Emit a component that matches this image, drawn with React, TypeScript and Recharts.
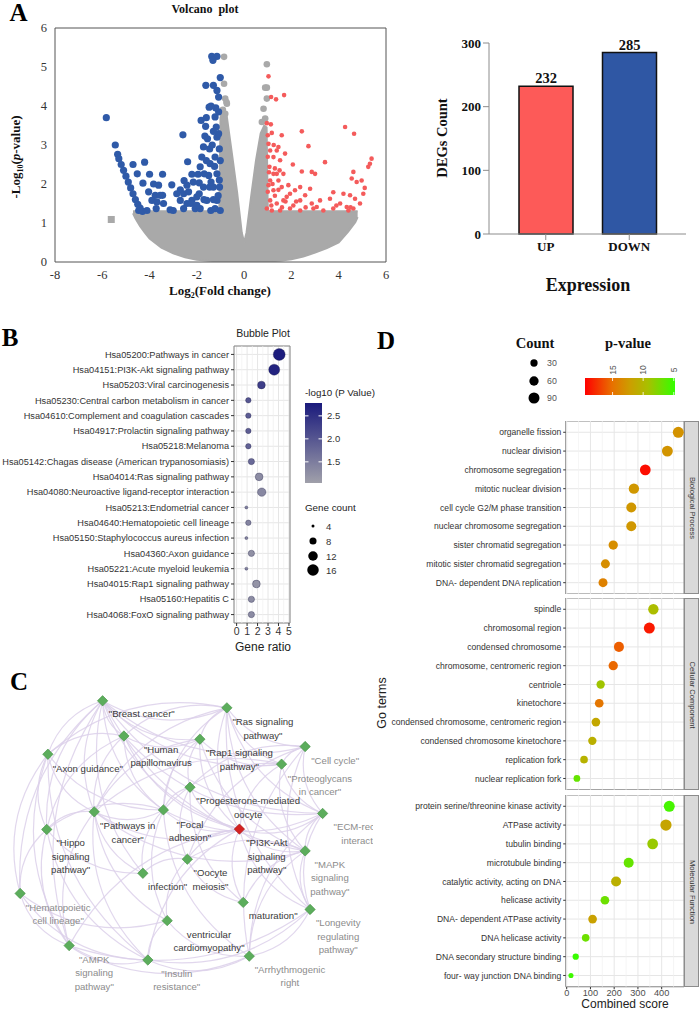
import React from 'react';
import {
  ComposedChart,
  ScatterChart,
  BarChart,
  Area,
  Bar,
  Scatter,
  XAxis,
  YAxis,
  CartesianGrid,
  ReferenceArea,
  ReferenceLine,
  LabelList,
  Cell,
} from 'recharts';

const SERIF = '"Liberation Serif", "Times New Roman", serif';
const SANS = '"Liberation Sans", Arial, sans-serif';

// ---------- A: volcano plot ----------
const FC_TICKS = [-8, -6, -4, -2, 0, 2, 4, 6];
const LOGP_TICKS = [0, 1, 2, 3, 4, 5, 6];

const DOWN_GENES: [number, number][] = [
  [-5.83, 3.7], [-5.45, 3.0], [-5.35, 2.76], [-5.3, 2.65], [-5.2, 2.5], [-5.1, 2.35], [-5.0, 2.2],
  [-4.9, 2.05], [-4.8, 1.9], [-4.7, 1.75], [-4.6, 1.6], [-4.5, 1.48], [-4.4, 1.38], [-4.3, 1.3],
  [-4.7, 2.5], [-4.21, 2.56], [-4.52, 2.26], [-4.0, 2.25], [-3.45, 2.25], [-4.28, 2.02], [-3.83, 2.0],
  [-3.62, 1.97], [-4.04, 1.8], [-3.76, 1.71], [-3.45, 1.71], [-3.9, 1.58], [-3.69, 1.54], [-3.41, 1.5],
  [-3.13, 1.34], [-3.06, 1.98], [-2.7, 1.85], [-2.59, 3.26], [-2.39, 2.57], [-2.21, 2.25], [-2.54, 2.09],
  [-2.42, 1.97], [-2.56, 1.75], [-2.35, 1.8], [-2.21, 1.58], [-2.42, 1.5], [-2.07, 1.37], [-2.0, 1.67],
  [-1.9, 2.03], [-1.86, 2.44], [-1.79, 2.69], [-1.72, 2.95], [-1.66, 3.23], [-1.63, 3.48], [-1.62, 4.53],
  [-1.48, 3.97], [-1.55, 3.16], [-1.46, 2.9], [-1.44, 2.52], [-1.5, 2.22], [-1.46, 1.92], [-1.58, 1.58],
  [-1.41, 1.32], [-1.3, 4.53], [-1.37, 5.27], [-1.15, 5.27], [-1.32, 5.17], [-1.15, 4.4], [-1.08, 4.23],
  [-1.23, 3.72], [-1.08, 3.85], [-1.18, 3.46], [-1.15, 3.2], [-1.23, 2.69], [-1.15, 2.26], [-1.3, 1.92],
  [-1.15, 1.58], [-1.23, 1.37], [-1.01, 4.73], [-1.08, 3.29], [-1.01, 2.6], [-1.04, 1.92], [-1.01, 1.32],
  [-1.82, 3.63], [-2.25, 1.5], [-2.7, 1.58], [-2.85, 1.75], [-3.0, 1.32], [-4.46, 1.32], [-4.11, 1.32],
  [-3.72, 1.37], [-3.55, 1.71], [-2.56, 1.37], [-1.86, 1.37], [-1.72, 1.92], [-1.69, 2.26], [-1.35, 3.0],
  [-1.25, 2.45], [-1.4, 2.05], [-1.6, 2.6], [-1.7, 1.6], [-1.3, 1.6], [-1.05, 2.9], [-1.05, 2.1],
  [-1.1, 1.7], [-1.2, 3.95], [-1.4, 4.0], [-1.9, 1.75], [-2.0, 1.45], [-2.15, 2.05], [-1.95, 2.25],
  [-1.6, 3.7], [-1.3, 3.35],
];

const UP_GENES: [number, number][] = [
  [1.03, 4.76], [1.14, 4.23], [1.35, 4.17], [1.69, 4.28], [0.96, 3.56], [1.13, 3.53], [1.17, 3.31],
  [1.59, 3.25], [2.44, 3.35], [4.27, 3.46], [4.65, 3.29], [2.72, 2.97], [3.42, 2.56], [5.39, 2.65],
  [5.32, 2.52], [5.25, 2.44], [2.06, 2.5], [2.44, 2.32], [2.86, 2.31], [3.0, 2.26], [1.73, 2.78],
  [1.38, 2.86], [1.03, 3.03], [1.1, 2.86], [1.24, 2.69], [1.52, 2.61], [1.07, 2.44], [1.24, 2.26],
  [1.45, 2.09], [1.03, 1.97], [1.24, 1.84], [1.59, 1.92], [1.87, 1.97], [1.94, 1.75], [2.15, 1.84],
  [1.1, 1.58], [1.38, 1.5], [1.66, 1.58], [2.08, 1.45], [2.37, 1.58], [2.58, 1.71], [2.79, 1.88],
  [3.21, 1.58], [3.63, 1.62], [3.77, 1.79], [4.06, 1.5], [4.34, 1.41], [4.62, 2.31], [4.55, 2.14],
  [4.76, 2.05], [4.97, 2.09], [5.04, 1.75], [4.48, 1.71], [4.69, 1.62], [4.62, 1.37], [4.41, 1.32],
  [0.96, 1.37], [1.17, 1.32], [1.52, 1.32], [1.94, 1.37], [2.37, 1.32], [2.93, 1.37], [3.35, 1.32],
  [3.77, 1.37], [1.38, 2.26], [1.66, 2.26], [1.1, 2.09], [1.8, 1.67], [2.37, 1.92], [2.86, 1.5],
  [3.07, 1.41], [4.2, 1.75], [1.0, 2.7], [1.05, 2.3], [1.2, 2.0], [1.3, 1.7], [1.45, 1.85], [1.3, 2.4],
  [1.5, 2.35], [1.0, 1.8], [1.15, 1.45], [1.6, 1.4], [1.75, 1.55], [1.25, 3.0], [1.45, 2.95], [1.0, 3.25],
  [2.2, 1.55], [2.6, 1.4], [3.9, 1.45], [4.9, 1.5], [5.1, 1.9], [4.5, 1.4],
];

// grey (not significant) genes sticking out of the cloud
const NS_TOP_GENES: [number, number][] = [
  [-0.85, 5.26], [0.96, 5.07], [-0.85, 4.57], [0.89, 4.47], [0.96, 4.47], [-0.8, 4.19], [0.96, 4.19],
  [-0.73, 4.06], [0.82, 3.93], [0.89, 3.68], [0.75, 3.59], [-0.8, 3.8], [-0.9, 3.9], [-0.75, 4.1],
];
const NS_OUTLIER: [number, number][] = [[-5.62, 1.09]];

// outline of the dense grey cloud: fold change, lower and upper -log10(p)
const NS_FC = [-4.7, -4.6, -4.4, -4.2, -4.0, -3.5, -3.0, -2.5, -2.0, -1.5, -1.05, -1.0, -0.9, -0.75, -0.5, -0.3, -0.1, 0, 0.1, 0.3, 0.5, 0.7, 0.85, 0.95, 1.0, 1.5, 2.0, 2.5, 3.0, 3.5, 4.0, 4.4, 4.7, 4.8];
const NS_LOW = [1.25, 1.12, 0.92, 0.75, 0.6, 0.37, 0.22, 0.12, 0.06, 0.03, 0.02, 0.02, 0.01, 0.01, 0, 0, 0, 0, 0, 0, 0, 0.01, 0.01, 0.02, 0.02, 0.03, 0.07, 0.14, 0.24, 0.36, 0.5, 0.78, 1.02, 1.15];
const NS_HIGH = [1.3, 1.3, 1.3, 1.3, 1.3, 1.3, 1.3, 1.3, 1.3, 1.3, 1.3, 3.7, 3.9, 3.8, 2.7, 1.8, 0.75, 0.5, 0.75, 1.7, 2.6, 3.3, 3.5, 3.45, 1.3, 1.3, 1.3, 1.3, 1.3, 1.3, 1.3, 1.3, 1.3, 1.3];

const DEG_GROUPS = ['UP', 'DOWN'];
const DEG_COUNTS = [232, 285];
const DEG_COLORS = ['#fd5a58', '#2f57a4'];

// ---------- B: KEGG bubble plot ----------
const PATHWAYS = [
  'Hsa05200:Pathways in cancer',
  'Hsa04151:PI3K-Akt signaling pathway',
  'Hsa05203:Viral carcinogenesis',
  'Hsa05230:Central carbon metabolism in cancer',
  'Hsa04610:Complement and coagulation cascades',
  'Hsa04917:Prolactin signaling pathway',
  'Hsa05218:Melanoma',
  'Hsa05142:Chagas disease (American trypanosomiasis)',
  'Hsa04014:Ras signaling pathway',
  'Hsa04080:Neuroactive ligand-receptor interaction',
  'Hsa05213:Endometrial cancer',
  'Hsa04640:Hematopoietic cell lineage',
  'Hsa05150:Staphylococcus aureus infection',
  'Hsa04360:Axon guidance',
  'Hsa05221:Acute myeloid leukemia',
  'Hsa04015:Rap1 signaling pathway',
  'Hsa05160:Hepatitis C',
  'Hsa04068:FoxO signaling pathway',
];
const PATHWAY_RATIO = [4.07, 3.59, 2.37, 1.12, 1.12, 1.12, 1.12, 1.41, 2.15, 2.4, 0.93, 1.12, 0.93, 1.41, 0.93, 1.89, 1.41, 1.41];
const PATHWAY_COUNT = [17, 15, 9, 6, 6, 6, 6, 7, 9, 10, 4, 6, 4, 7, 4, 9, 7, 7];
const PATHWAY_LOGP = [2.75, 2.68, 2.3, 2.0, 1.92, 1.9, 1.85, 1.75, 1.3, 1.35, 1.45, 1.4, 1.4, 1.25, 1.4, 1.2, 1.3, 1.3];
const RATIO_TICKS = [0, 1, 2, 3, 4, 5];
const LOGP_LEGEND = [2.5, 2.0, 1.5];
const GENE_COUNT_LEGEND = [4, 8, 12, 16];

// ---------- C: pathway network ----------
const NODES: [string, number, number][] = [
  ['breast', 27.0, 6.5], ['ras', 59.7, 8.7], ['hpv', 32.6, 17.5], ['rap1', 52.6, 18.5],
  ['axon', 12.6, 23.2], ['cellcycle', 80.3, 20.8], ['proteo', 74.1, 26.3], ['proges', 50.0, 33.5],
  ['pathways', 24.8, 41.2], ['focal', 43.0, 40.6], ['pi3k', 63.0, 46.6], ['ecm', 84.9, 41.7],
  ['hippo', 12.3, 46.7], ['mapk', 80.3, 53.4], ['oocyte', 49.3, 56.0], ['infection', 37.6, 60.4],
  ['hemato', 5.3, 66.7], ['maturation', 64.0, 69.5], ['longevity', 81.6, 71.7], ['ventric', 44.0, 75.2],
  ['ampk', 18.2, 83.0], ['insulin', 38.9, 87.5], ['arrhy', 65.6, 86.3],
];
const HUB_NODE = 'pi3k';

const NODE_LABELS: [string, number, number, string[]][] = [
  ['breast', 37.3, 10.6, ['"Breast cancer"']],
  ['ras', 69.2, 13.0, ['"Ras signaling', 'pathway"']],
  ['hpv', 42.4, 21.7, ['"Human', 'papillomavirus']],
  ['rap1', 63.0, 22.7, ['"Rap1 signaling', 'pathway"']],
  ['axon', 23.1, 27.6, ['"Axon guidance"']],
  ['cellcycle', 88.2, 25.2, ['"Cell cycle"']],
  ['proteo', 84.2, 30.7, ['"Proteoglycans', 'in cancer"']],
  ['proges', 65.3, 37.7, ['"Progesterone-mediated', 'oocyte']],
  ['pathways', 33.6, 45.5, ['"Pathways in', 'cancer"']],
  ['focal', 50.0, 45.0, ['"Focal', 'adhesion"']],
  ['pi3k', 70.2, 50.8, ['"PI3K-Akt', 'signaling', 'pathway"']],
  ['ecm', 96.1, 45.8, ['"ECM-receptor', 'interaction"']],
  ['hippo', 18.6, 50.8, ['"Hippo', 'signaling', 'pathway"']],
  ['mapk', 86.8, 57.6, ['"MAPK', 'signaling', 'pathway"']],
  ['oocyte', 55.4, 60.2, ['"Oocyte', 'meiosis"']],
  ['infection', 44.1, 64.4, ['infection"']],
  ['hemato', 15.3, 71.0, ['"Hematopoietic', 'cell lineage"']],
  ['maturation', 71.9, 73.7, ['maturation"']],
  ['longevity', 89.0, 75.8, ['"Longevity', 'regulating', 'pathway"']],
  ['ventric', 55.0, 79.4, ['ventricular', 'cardiomyopathy"']],
  ['ampk', 24.8, 87.2, ['"AMPK', 'signaling', 'pathway"']],
  ['insulin', 46.5, 91.7, ['"Insulin', 'resistance"']],
  ['arrhy', 76.3, 90.4, ['"Arrhythmogenic', 'right']],
];
const FADED_LABELS = ['cellcycle', 'proteo', 'ecm', 'mapk', 'hemato', 'longevity', 'ampk', 'insulin', 'arrhy'];

const EDGES: [string, string][] = [
  ['breast', 'ras'], ['breast', 'hpv'], ['breast', 'rap1'], ['breast', 'axon'], ['breast', 'cellcycle'],
  ['breast', 'proteo'], ['breast', 'pathways'], ['breast', 'focal'], ['breast', 'pi3k'], ['breast', 'hippo'],
  ['breast', 'hemato'], ['breast', 'ampk'], ['breast', 'mapk'], ['breast', 'ecm'], ['breast', 'infection'],
  ['ras', 'rap1'], ['ras', 'cellcycle'], ['ras', 'proteo'], ['ras', 'pi3k'], ['ras', 'mapk'], ['ras', 'ecm'],
  ['ras', 'focal'], ['ras', 'pathways'], ['ras', 'longevity'], ['ras', 'axon'], ['ras', 'hpv'],
  ['hpv', 'rap1'], ['hpv', 'pathways'], ['hpv', 'focal'], ['hpv', 'pi3k'], ['hpv', 'hippo'], ['hpv', 'axon'], ['hpv', 'ecm'],
  ['rap1', 'proges'], ['rap1', 'focal'], ['rap1', 'pi3k'], ['rap1', 'mapk'], ['rap1', 'pathways'], ['rap1', 'proteo'],
  ['axon', 'hippo'], ['axon', 'hemato'], ['axon', 'pathways'], ['axon', 'ampk'], ['axon', 'focal'], ['axon', 'insulin'],
  ['cellcycle', 'proteo'], ['cellcycle', 'oocyte'], ['cellcycle', 'proges'], ['cellcycle', 'ecm'], ['cellcycle', 'longevity'], ['cellcycle', 'arrhy'],
  ['proteo', 'pi3k'], ['proteo', 'ecm'], ['proteo', 'focal'], ['proteo', 'mapk'], ['proteo', 'pathways'],
  ['proges', 'oocyte'], ['proges', 'maturation'], ['proges', 'pi3k'], ['proges', 'focal'],
  ['pathways', 'focal'], ['pathways', 'pi3k'], ['pathways', 'hippo'], ['pathways', 'infection'], ['pathways', 'mapk'],
  ['pathways', 'ampk'], ['pathways', 'ventric'], ['pathways', 'insulin'],
  ['focal', 'pi3k'], ['focal', 'ecm'], ['focal', 'infection'], ['focal', 'ventric'], ['focal', 'arrhy'], ['focal', 'hippo'],
  ['pi3k', 'ecm'], ['pi3k', 'mapk'], ['pi3k', 'longevity'], ['pi3k', 'insulin'], ['pi3k', 'ampk'], ['pi3k', 'maturation'], ['pi3k', 'oocyte'],
  ['ecm', 'mapk'], ['ecm', 'longevity'], ['ecm', 'arrhy'],
  ['hippo', 'hemato'], ['hippo', 'ampk'], ['hippo', 'infection'], ['hippo', 'insulin'],
  ['mapk', 'longevity'], ['mapk', 'maturation'], ['mapk', 'arrhy'], ['mapk', 'oocyte'],
  ['oocyte', 'maturation'], ['oocyte', 'infection'], ['oocyte', 'ventric'],
  ['hemato', 'ampk'], ['hemato', 'insulin'], ['hemato', 'ventric'],
  ['ventric', 'arrhy'], ['ventric', 'insulin'],
  ['ampk', 'insulin'], ['ampk', 'arrhy'], ['ampk', 'longevity'],
  ['insulin', 'arrhy'], ['insulin', 'longevity'], ['arrhy', 'longevity'],
];

// ---------- D: GO enrichment ----------
const BP_TERMS = [
  'organelle fission', 'nuclear division', 'chromosome segregation', 'mitotic nuclear division',
  'cell cycle G2/M phase transition', 'nuclear chromosome segregation', 'sister chromatid segregation',
  'mitotic sister chromatid segregation', 'DNA- dependent DNA replication',
];
const BP_SCORE = [470, 424, 331, 283, 272, 272, 196, 163, 153];
const BP_COUNT = [90, 88, 85, 78, 72, 72, 60, 55, 55];
const BP_PVAL = [12.9, 12.8, 19.0, 12.6, 12.6, 12.6, 13.2, 13.2, 14.0];

const CC_TERMS = [
  'spindle', 'chromosomal region', 'condensed chromosome', 'chromosome, centromeric region', 'centriole',
  'kinetochore', 'condensed chromosome, centromeric region', 'condensed chromosome kinetochore',
  'replication fork', 'nuclear replication fork',
];
const CC_SCORE = [365, 348, 220, 196, 143, 137, 123, 108, 73, 43];
const CC_COUNT = [78, 90, 72, 60, 45, 50, 50, 45, 35, 23];
const CC_PVAL = [9.5, 18.5, 15.8, 15.4, 8.9, 14.7, 11.4, 10.7, 10.4, 6.7];

const MF_TERMS = [
  'protein serine/threonine kinase activity', 'ATPase activity', 'tubulin binding', 'microtubule binding',
  'catalytic activity, acting on DNA', 'helicase activity', 'DNA- dependent ATPase activity',
  'DNA helicase activity', 'DNA secondary structure binding', 'four- way junction DNA binding',
];
const MF_SCORE = [432, 418, 362, 261, 208, 161, 109, 80, 38, 18];
const MF_COUNT = [90, 95, 85, 72, 72, 50, 50, 35, 18, 6];
const MF_PVAL = [5.5, 11.6, 8.6, 6.7, 10.7, 7.0, 11.9, 7.0, 5.0, 5.2];

const SCORE_TICKS = [0, 100, 200, 300, 400];
const SCORE_MINOR = [50, 150, 250, 350, 450];
const COUNT_LEGEND = [30, 60, 90];
const PVAL_LEGEND = [15, 10, 5];

// ---------- helpers ----------
const mix = (a: number[], b: number[], t: number) =>
  `rgb(${a.map((v, i) => Math.round(v + (b[i] - v) * t)).join(',')})`;

const PVAL_STOPS: [number, number[]][] = [
  [0, [255, 0, 0]], [0.3, [232, 112, 0]], [0.5, [204, 158, 0]], [0.7, [168, 192, 0]], [1, [51, 255, 0]],
];
const pvalColor = (p: number) => {
  const t = Math.min(1, Math.max(0, (19.5 - p) / 14.7));
  for (let i = 1; i < PVAL_STOPS.length; i++) {
    const [t0, c0] = PVAL_STOPS[i - 1];
    const [t1, c1] = PVAL_STOPS[i];
    if (t <= t1) return mix(c0, c1, (t - t0) / (t1 - t0));
  }
  return 'rgb(51,255,0)';
};
const goRadius = (count: number) => Math.sqrt(19 + 1.13 * count) / 2;

const logpColor = (v: number) => mix([160, 160, 170], [26, 26, 124], Math.min(1, Math.max(0, (v - 1.04) / 1.74)));
const keggRadius = (count: number) => Math.sqrt(9 + 10.25 * (count - 4)) / 2;

const Txt = ({ x, y, rotate, style, children }: any) => (
  <div
    style={{
      position: 'absolute',
      left: x,
      top: y,
      transform: `translate(-50%, -50%)${rotate ? ` rotate(${rotate}deg)` : ''}`,
      whiteSpace: 'nowrap',
      lineHeight: 1,
      ...style,
    }}
  >
    {children}
  </div>
);

const dot = (r: number, fill: string) => (p: any) => <circle cx={p.cx} cy={p.cy} r={r} fill={fill} />;

// single-line category tick (the default tick wraps long names)
const termTick = (labels: string[], fontSize: number) => (p: any) => (
  <text x={p.x} y={p.y} dy={3.2} textAnchor="end" fontFamily={SANS} fontSize={fontSize} fill="#333">
    {labels[p.payload.value] ?? ''}
  </text>
);

// ---------- panels ----------
const Volcano = () => {
  const cloud = NS_FC.map((fc, i) => ({ fc, band: [NS_LOW[i], NS_HIGH[i]] }));
  const toPts = (arr: [number, number][]) => arr.map(([fc, lp]) => ({ fc, lp }));
  const tick = { fontFamily: SERIF, fontSize: 12.5, fill: '#333' };
  return (
    <div style={{ position: 'absolute', left: 0, top: 0 }}>
      <ComposedChart width={400} height={300} margin={{ top: 28, right: 14, bottom: 18, left: 25 }}>
        <XAxis type="number" dataKey="fc" domain={[-8, 6]} ticks={FC_TICKS} interval={0} allowDataOverflow
          axisLine={false} tickLine={false} tick={tick} height={20} />
        <YAxis type="number" domain={[0, 6]} ticks={LOGP_TICKS} interval={0} allowDataOverflow
          axisLine={false} tickLine={false} tick={tick} width={30} />
        <Area data={cloud} dataKey="band" type="linear" fill="#a9a9a9" fillOpacity={1} stroke="#a9a9a9"
          strokeWidth={2} isAnimationActive={false} />
        <Scatter data={toPts(NS_TOP_GENES)} dataKey="lp" shape={dot(3.3, '#a9a9a9')} isAnimationActive={false} />
        <Scatter data={toPts(NS_OUTLIER)} dataKey="lp" isAnimationActive={false}
          shape={(p: any) => <rect x={p.cx - 3.5} y={p.cy - 3.5} width={7} height={7} fill="#a9a9a9" />} />
        <Scatter data={toPts(DOWN_GENES)} dataKey="lp" shape={dot(3.6, '#2f5aa8')} isAnimationActive={false} />
        <Scatter data={toPts(UP_GENES)} dataKey="lp" shape={dot(2.3, '#f45b5b')} isAnimationActive={false} />
        <ReferenceArea x1={-8} x2={6} y1={0} y2={6} fill="none" stroke="#555" strokeWidth={1} ifOverflow="visible" />
      </ComposedChart>
    </div>
  );
};

const DegBars = () => {
  const data = DEG_GROUPS.map((group, i) => ({ group, count: DEG_COUNTS[i] }));
  const tick = { fontFamily: SERIF, fontWeight: 700, fontSize: 13, fill: '#111' };
  return (
    <div style={{ position: 'absolute', left: 400, top: 0 }}>
      <BarChart width={300} height={310} data={data} margin={{ top: 43, right: 14, left: 49, bottom: 46 }}>
        <XAxis dataKey="group" padding={{ left: 15, right: 15 }} axisLine={{ stroke: '#8c8c8c' }}
          tickLine={{ stroke: '#8c8c8c' }} tickSize={6} tick={tick} height={30} />
        <YAxis domain={[0, 300]} ticks={[0, 100, 200, 300]} interval={0} axisLine={{ stroke: '#8c8c8c' }}
          tickLine={{ stroke: '#8c8c8c' }} tickSize={6} tick={tick} width={40} />
        <Bar dataKey="count" barSize={54} stroke="#111" strokeWidth={1.5} isAnimationActive={false}>
          {data.map((d, i) => (
            <Cell key={d.group} fill={DEG_COLORS[i]} />
          ))}
          <LabelList dataKey="count" position="top" offset={3}
            style={{ fontFamily: SERIF, fontWeight: 700, fontSize: 14.5, fill: '#111' }} />
        </Bar>
      </BarChart>
    </div>
  );
};

const KeggBubbles = () => {
  const data = PATHWAYS.map((name, idx) => ({
    idx,
    ratio: PATHWAY_RATIO[idx],
    count: PATHWAY_COUNT[idx],
    logp: PATHWAY_LOGP[idx],
  }));
  return (
    <div style={{ position: 'absolute', left: 0, top: 300 }}>
      <ScatterChart width={300} height={360} margin={{ top: 46, right: 10, bottom: 17, left: 0 }}>
        <CartesianGrid stroke="#e6e6e6" />
        {[0.5, 1.5, 2.5, 3.5, 4.5].map((v) => (
          <ReferenceLine key={v} x={v} stroke="#efefef" strokeWidth={0.7} />
        ))}
        <XAxis type="number" dataKey="ratio" domain={[-0.25, 5.1]} ticks={RATIO_TICKS} interval={0}
          axisLine={false} tickLine={{ stroke: '#333' }} tickSize={3}
          tick={{ fontFamily: SANS, fontSize: 10.5, fill: '#333' }} height={20} />
        <YAxis type="number" dataKey="idx" domain={[-0.55, 17.55]} reversed ticks={PATHWAYS.map((_, i) => i)}
          interval={0} axisLine={false} tickLine={{ stroke: '#333' }} tickSize={3}
          tick={termTick(PATHWAYS, 9.2)} width={234} />
        <ReferenceArea x1={-0.25} x2={5.1} y1={-0.55} y2={17.55} fill="none" stroke="#888" ifOverflow="visible" />
        <Scatter data={data} isAnimationActive={false}
          shape={(p: any) => (
            <circle cx={p.cx} cy={p.cy} r={keggRadius(p.payload.count)} fill={logpColor(p.payload.logp)}
              stroke="rgba(20,20,60,0.45)" strokeWidth={0.7} />
          )} />
      </ScatterChart>
    </div>
  );
};

const KeggLegend = () => {
  const top = 1.04;
  const span = 1.74;
  const barTop = 403;
  const barH = 80;
  const yOf = (v: number) => barTop + ((top + span - v) / span) * barH;
  const countY = [526, 541, 556, 570];
  return (
    <svg width={100} height={300} style={{ position: 'absolute', left: 290, top: 370 }} viewBox="290 370 100 300">
      <defs>
        <linearGradient id="keggGrad" x1="0" y1="0" x2="0" y2="1">
          <stop offset="0" stopColor={logpColor(2.78)} />
          <stop offset="1" stopColor={logpColor(1.04)} />
        </linearGradient>
      </defs>
      <text x={305} y={396} fontFamily={SANS} fontSize={9.8} fill="#222">-log10 (P Value)</text>
      <rect x={305} y={barTop} width={17} height={barH} fill="url(#keggGrad)" />
      {LOGP_LEGEND.map((v) => (
        <g key={v}>
          <line x1={305} x2={308.5} y1={yOf(v)} y2={yOf(v)} stroke="#fff" />
          <line x1={318.5} x2={322} y1={yOf(v)} y2={yOf(v)} stroke="#fff" />
          <text x={327} y={yOf(v) + 3.5} fontFamily={SANS} fontSize={9.5} fill="#333">{v.toFixed(1)}</text>
        </g>
      ))}
      <text x={305} y={511} fontFamily={SANS} fontSize={9.8} fill="#222">Gene count</text>
      {GENE_COUNT_LEGEND.map((c, i) => (
        <g key={c}>
          <circle cx={313} cy={countY[i]} r={keggRadius(c)} fill="#000" />
          <text x={326} y={countY[i] + 3.5} fontFamily={SANS} fontSize={9.5} fill="#333">{c}</text>
        </g>
      ))}
    </svg>
  );
};

const EdgeCurve = (p: any) => {
  const { x1, y1, x2, y2 } = p;
  if ([x1, y1, x2, y2].some((v) => typeof v !== 'number' || Number.isNaN(v))) return <g />;
  const mx = (x1 + x2) / 2;
  const my = (y1 + y2) / 2;
  const cx = mx - (y2 - y1) * 0.25;
  const cy = my + (x2 - x1) * 0.25;
  return (
    <path d={`M${x1},${y1} Q${cx},${cy} ${x2},${y2}`} fill="none" stroke="#dcd0ea" strokeWidth={1.2}
      strokeOpacity={0.85} />
  );
};

const Network = () => {
  const pos = Object.fromEntries(NODES.map(([id, x, y]) => [id, { x, y }]));
  const nodes = NODES.map(([id, x, y]) => ({ id, x, y }));
  const labels = NODE_LABELS.map(([id, x, y, lines]) => ({ id, x, y, lines }));
  return (
    <div style={{ position: 'absolute', left: 0, top: 680, width: 373, height: 331, overflow: 'hidden' }}>
      <ScatterChart width={380} height={320} margin={{ top: 0, right: 0, bottom: 0, left: 0 }}>
        <XAxis type="number" dataKey="x" domain={[0, 100]} hide allowDataOverflow />
        <YAxis type="number" dataKey="y" domain={[0, 100]} reversed hide allowDataOverflow />
        {EDGES.map(([a, b]) => (
          <ReferenceLine key={`${a}-${b}`} segment={[pos[a], pos[b]]} ifOverflow="visible" shape={EdgeCurve} />
        ))}
        <Scatter data={labels} isAnimationActive={false}
          shape={(p: any) => (
            <text x={p.cx} y={p.cy + 3.5} textAnchor="middle" fontFamily={SANS} fontSize={9.6}
              fill={FADED_LABELS.includes(p.payload.id) ? '#8c8c8c' : '#3a3a3a'}>
              {p.payload.lines.map((line: string, i: number) => (
                <tspan key={i} x={p.cx} dy={i === 0 ? 0 : 13.5}>{line}</tspan>
              ))}
            </text>
          )} />
        <Scatter data={nodes} isAnimationActive={false}
          shape={(p: any) => {
            const s = 5.2;
            const hub = p.payload.id === HUB_NODE;
            return (
              <polygon points={`${p.cx},${p.cy - s} ${p.cx + s},${p.cy} ${p.cx},${p.cy + s} ${p.cx - s},${p.cy}`}
                fill={hub ? '#d42121' : '#5cad5c'} stroke={hub ? '#a01010' : '#3f8f3f'} strokeWidth={0.6} />
            );
          }} />
      </ScatterChart>
    </div>
  );
};

const ROW = 18.8;

const GoFacet = ({ terms, scores, counts, pvals, top, strip, showAxis }: any) => {
  const n = terms.length;
  const plotH = (n + 0.2) * ROW;
  const axisH = showAxis ? 14 : 0;
  const data = terms.map((t: string, idx: number) => ({ idx, score: scores[idx], count: counts[idx], p: pvals[idx] }));
  return (
    <>
      <div style={{ position: 'absolute', left: 380, top }}>
        <ScatterChart width={320} height={plotH + axisH} margin={{ top: 0, right: 16, bottom: 0, left: 0 }}>
          <CartesianGrid stroke="#e6e6e6" vertical={false} />
          {SCORE_TICKS.map((v) => (
            <ReferenceLine key={`M${v}`} x={v} stroke="#e6e6e6" />
          ))}
          {SCORE_MINOR.map((v) => (
            <ReferenceLine key={`m${v}`} x={v} stroke="#f0f0f0" strokeWidth={0.7} />
          ))}
          <XAxis type="number" dataKey="score" domain={[-4.2, 494]} ticks={SCORE_TICKS} interval={0}
            hide={!showAxis} height={axisH} axisLine={false} tickLine={{ stroke: '#333' }} tickSize={2.5}
            tickMargin={0} tick={{ fontFamily: SANS, fontSize: 9.2, fill: '#4d4d4d' }} />
          <YAxis type="number" dataKey="idx" domain={[-0.6, n - 0.4]} reversed ticks={terms.map((_: string, i: number) => i)}
            interval={0} axisLine={false} tickLine={{ stroke: '#333' }} tickSize={2.5}
            tick={termTick(terms, 8.6)} width={185.7} />
          <ReferenceArea x1={-4.2} x2={494} y1={-0.6} y2={n - 0.4} fill="none" stroke="#8c8c8c" ifOverflow="visible" />
          <Scatter data={data} isAnimationActive={false}
            shape={(p: any) => (
              <circle cx={p.cx} cy={p.cy} r={goRadius(p.payload.count)} fill={pvalColor(p.payload.p)} />
            )} />
        </ScatterChart>
      </div>
      <div
        style={{
          position: 'absolute',
          left: 684,
          top,
          width: 15,
          height: plotH,
          boxSizing: 'border-box',
          background: '#d9d9d9',
          border: '1px solid #8c8c8c',
        }}
      >
        <Txt x={7} y={plotH / 2} rotate={90} style={{ fontFamily: SANS, fontSize: 7.6, color: '#333' }}>
          {strip}
        </Txt>
      </div>
    </>
  );
};

const GoLegend = () => {
  const countY = [363, 381, 398];
  const barL = 585;
  const barW = 90;
  const xOf = (v: number) => barL + ((19.5 - v) / 14.7) * barW;
  return (
    <svg width={180} height={60} style={{ position: 'absolute', left: 520, top: 350 }} viewBox="520 350 180 60">
      <defs>
        <linearGradient id="goGrad" x1="0" y1="0" x2="1" y2="0">
          {PVAL_STOPS.map(([t]) => (
            <stop key={t} offset={t} stopColor={pvalColor(19.5 - t * 14.7)} />
          ))}
        </linearGradient>
      </defs>
      {COUNT_LEGEND.map((c, i) => (
        <g key={c}>
          <circle cx={534} cy={countY[i]} r={goRadius(c)} fill="#000" />
          <text x={547} y={countY[i] + 3} fontFamily={SANS} fontSize={8.8} fill="#555">{c}</text>
        </g>
      ))}
      <rect x={barL} y={378} width={barW} height={17} fill="url(#goGrad)" />
      {PVAL_LEGEND.map((v) => (
        <g key={v}>
          <line x1={xOf(v)} x2={xOf(v)} y1={378} y2={381} stroke="#fff" strokeOpacity={0.8} />
          <line x1={xOf(v)} x2={xOf(v)} y1={392} y2={395} stroke="#fff" strokeOpacity={0.8} />
          <text x={0} y={0} transform={`translate(${xOf(v) + 3},${370}) rotate(-90)`} textAnchor="middle"
            fontFamily={SANS} fontSize={8.5} fill="#555">{v}</text>
        </g>
      ))}
    </svg>
  );
};

export default function App() {
  const panelLetter = { fontFamily: SERIF, fontWeight: 700, fontSize: 25, color: '#000' };
  const serifBold = { fontFamily: SERIF, fontWeight: 700, color: '#111' };
  return (
    <div style={{ position: 'absolute', left: 0, top: 0, width: 700, height: 1011, background: '#fff', overflow: 'hidden' }}>
      {/* A */}
      <Volcano />
      <DegBars />
      <Txt x={18.5} y={12} style={panelLetter}>A</Txt>
      <Txt x={205} y={9} style={{ ...serifBold, fontSize: 12 }}>Volcano&nbsp; plot</Txt>
      <Txt x={220} y={292} style={{ ...serifBold, fontSize: 13 }}>
        Log<sub style={{ fontSize: 8 }}>2</sub>(Fold change)
      </Txt>
      <Txt x={17} y={157} rotate={-90} style={{ ...serifBold, fontSize: 13 }}>
        -Log<sub style={{ fontSize: 8 }}>10</sub>(<i>p</i>-value)
      </Txt>
      <Txt x={442} y={138} rotate={-90} style={{ ...serifBold, fontSize: 14.5 }}>DEGs Count</Txt>
      <Txt x={588} y={285} style={{ ...serifBold, fontSize: 18 }}>Expression</Txt>

      {/* B */}
      <KeggBubbles />
      <KeggLegend />
      <Txt x={10} y={337} style={panelLetter}>B</Txt>
      <Txt x={263} y={333} style={{ fontFamily: SANS, fontSize: 10.5, color: '#222' }}>Bubble Plot</Txt>
      <Txt x={263} y={647} style={{ fontFamily: SANS, fontSize: 12, color: '#222' }}>Gene ratio</Txt>

      {/* C */}
      <Network />
      <Txt x={19} y={681} style={panelLetter}>C</Txt>

      {/* D */}
      <GoLegend />
      <Txt x={386} y={340} style={panelLetter}>D</Txt>
      <Txt x={535} y={343} style={{ ...serifBold, fontSize: 14.5 }}>Count</Txt>
      <Txt x={628} y={343} style={{ ...serifBold, fontSize: 14.5 }}>p-value</Txt>
      <GoFacet terms={BP_TERMS} scores={BP_SCORE} counts={BP_COUNT} pvals={BP_PVAL} top={421} strip="Biological Process" />
      <GoFacet terms={CC_TERMS} scores={CC_SCORE} counts={CC_COUNT} pvals={CC_PVAL} top={598.3} strip="Cellular Component" />
      <GoFacet terms={MF_TERMS} scores={MF_SCORE} counts={MF_COUNT} pvals={MF_PVAL} top={795} strip="Molecular Function" showAxis />
      <Txt x={382} y={703} rotate={-90} style={{ fontFamily: SANS, fontSize: 12.5, color: '#222' }}>Go terms</Txt>
      <Txt x={625} y={1003.5} style={{ fontFamily: SANS, fontSize: 12, color: '#222' }}>Combined score</Txt>
    </div>
  );
}
